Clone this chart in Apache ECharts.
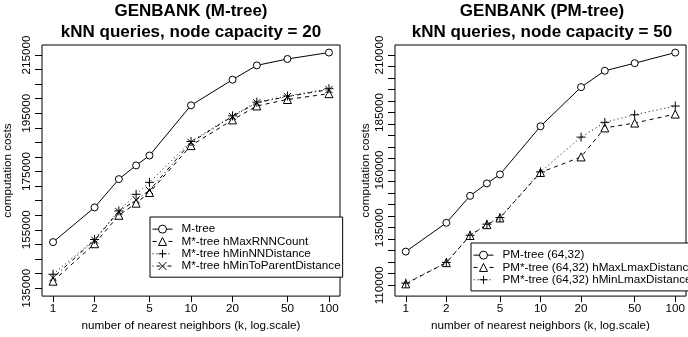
<!DOCTYPE html>
<html><head><meta charset="utf-8">
<script src="https://cdn.jsdelivr.net/npm/echarts@6/dist/echarts.min.js"></script>
<style>html,body{margin:0;padding:0;background:#fff}#c{width:688px;height:337px}</style>
</head><body><div id="c"></div>
<script>
// ---- data ----
const kValues = [1, 2, 3, 4, 5, 10, 20, 30, 50, 100];
const xTickValues = [1, 2, 5, 10, 20, 50, 100];

// left panel: GENBANK (M-tree), node capacity = 20
const mTree            = [150800, 162700, 172400, 177100, 180500, 197700, 206500, 211400, 213600, 215800];
const mStarMaxRNNCount = [137400, 150250, 160000, 164150, 167800, 183900, 192700, 197500, 199700, 201700];
const mStarMinNNDist   = [139800, 151700, 161500, 167200, 171300, 185300, 194100, 198800, 200900, 203400];
const mStarMinToParent = [138600, 151500, 161300, 165300, 168500, 185000, 193900, 198600, 200700, 203100];
const leftYTicks  = [135000,140000,145000,150000,155000,160000,165000,170000,175000,180000,185000,190000,195000,200000,205000,210000,215000];
const leftYLabels = [135000, 155000, 175000, 195000, 215000];

// right panel: GENBANK (PM-tree), node capacity = 50
const pmTree           = [124600, 137100, 148800, 154200, 158100, 179000, 196000, 203100, 206400, 211000];
const pmStarMaxLmax    = [110600, 119800, 131600, 136300, 139200, 158950, 165700, 178300, 180400, 184300];
const pmStarMinLmax    = [110900, 119900, 131700, 136500, 139400, 159200, 174300, 180700, 184000, 187800];
const rightYTicks  = [110000,115000,120000,125000,130000,135000,140000,145000,150000,155000,160000,165000,170000,175000,180000,185000,190000,195000,200000,205000,210000];
const rightYLabels = [110000, 135000, 160000, 185000, 210000];

// ---- styling ----
const FONT = '"Liberation Sans", Arial, Helvetica, sans-serif';
const FS = 11.7;
const PLUS = 'path://M0,5L10,5M5,0L5,10';
const CROSS = 'path://M0,0L10,10M10,0L0,10';
const DASH = [4, 4], DOT = [1, 3], DOTDASH = [1, 3, 4, 3];

function pairs(vals) { return kValues.map((k, i) => [k, vals[i]]); }

function mkSeries(name, vals, gi, symbol, size, dash) {
  return {
    type: 'line', name, xAxisIndex: gi, yAxisIndex: gi,
    data: pairs(vals), symbol, symbolSize: size, showAllSymbol: true,
    lineStyle: { color: '#000', width: 1, type: dash },
    itemStyle: { color: '#fff', borderColor: '#000', borderWidth: 1 },
    emphasis: { disabled: true }, animation: false, z: 3
  };
}

function xAxisCfg(gi) {
  return {
    type: 'log', logBase: 10, gridIndex: gi,
    min: Math.pow(10, -0.08), max: Math.pow(10, 2.08),
    name: 'number of nearest neighbors (k, log.scale)', nameLocation: 'middle', nameGap: 21,
    nameTextStyle: { fontFamily: FONT, fontSize: FS, color: '#000' },
    axisLine: { show: false },
    axisTick: { show: true, customValues: xTickValues, length: 6, lineStyle: { color: '#000', width: 1 } },
    axisLabel: { customValues: xTickValues, margin: 7, fontFamily: FONT, fontSize: FS, color: '#000', formatter: v => String(Math.round(v)) },
    splitLine: { show: false }, minorTick: { show: false }
  };
}

function yAxisCfg(gi, min, max, ticks, labels, nameGap) {
  return {
    type: 'value', gridIndex: gi, min, max,
    name: 'computation costs', nameLocation: 'middle', nameGap,
    nameTextStyle: { fontFamily: FONT, fontSize: FS, color: '#000' },
    axisLine: { show: false },
    axisTick: { show: true, customValues: ticks, length: 7, lineStyle: { color: '#000', width: 1 } },
    axisLabel: { customValues: labels, rotate: 90, margin: 9, fontFamily: FONT, fontSize: FS, color: '#000', formatter: v => String(v) },
    splitLine: { show: false }
  };
}

function legendCfg(names, left, top) {
  return {
    data: names, orient: 'vertical', left, top,
    itemWidth: 20, itemHeight: 10, itemGap: 0,
    padding: [6, 2, 5, 2],
    borderColor: '#000', borderWidth: 1, borderRadius: 0, backgroundColor: '#fff',
    lineStyle: { width: 1 },
    itemStyle: { borderWidth: 1 },
    textStyle: { fontFamily: FONT, fontSize: FS, color: '#000', lineHeight: 12.3, padding: [0, 0, 0, 4] },
    selectedMode: false, z: 10
  };
}

const titleStyle = { fontFamily: FONT, fontSize: 17, fontWeight: 'bold', color: '#000', lineHeight: 21 };

const option = {
  animation: false,
  backgroundColor: '#fff',
  title: [
    { text: 'GENBANK (M-tree)\nkNN queries, node capacity = 20', left: 191, top: 1, padding: 0, textAlign: 'center', textStyle: titleStyle },
    { text: 'GENBANK (PM-tree)\nkNN queries, node capacity = 50', left: 542, top: 1, padding: 0, textAlign: 'center', textStyle: titleStyle }
  ],
  grid: [
    { left: 42, top: 45, width: 298, height: 254, show: true, borderColor: '#000', borderWidth: 1, backgroundColor: 'transparent', containLabel: false },
    { left: 395, top: 45, width: 295, height: 254, show: true, borderColor: '#000', borderWidth: 1, backgroundColor: 'transparent', containLabel: false }
  ],
  xAxis: [xAxisCfg(0), xAxisCfg(1)],
  yAxis: [
    yAxisCfg(0, 132290, 218390, leftYTicks, leftYLabels, 28),
    yAxisCfg(1, 105280, 214290, rightYTicks, rightYLabels, 23)
  ],
  legend: [
    legendCfg(['M-tree', 'M*-tree hMaxRNNCount', 'M*-tree hMinNNDistance', 'M*-tree hMinToParentDistance'], 150, 217),
    legendCfg(['PM-tree (64,32)', 'PM*-tree (64,32) hMaxLmaxDistance', 'PM*-tree (64,32) hMinLmaxDistance'], 471, 243)
  ],
  series: [
    mkSeries('M-tree', mTree, 0, 'circle', 7, 'solid'),
    mkSeries('M*-tree hMaxRNNCount', mStarMaxRNNCount, 0, 'triangle', 8, DASH),
    mkSeries('M*-tree hMinNNDistance', mStarMinNNDist, 0, PLUS, 9, DOT),
    mkSeries('M*-tree hMinToParentDistance', mStarMinToParent, 0, CROSS, 7, DOTDASH),
    mkSeries('PM-tree (64,32)', pmTree, 1, 'circle', 7, 'solid'),
    mkSeries('PM*-tree (64,32) hMaxLmaxDistance', pmStarMaxLmax, 1, 'triangle', 8, DASH),
    mkSeries('PM*-tree (64,32) hMinLmaxDistance', pmStarMinLmax, 1, PLUS, 9, DOT)
  ]
};

const chart = echarts.init(document.getElementById('c'), null, { renderer: 'canvas' });
chart.setOption(option);
</script>
</body></html>
